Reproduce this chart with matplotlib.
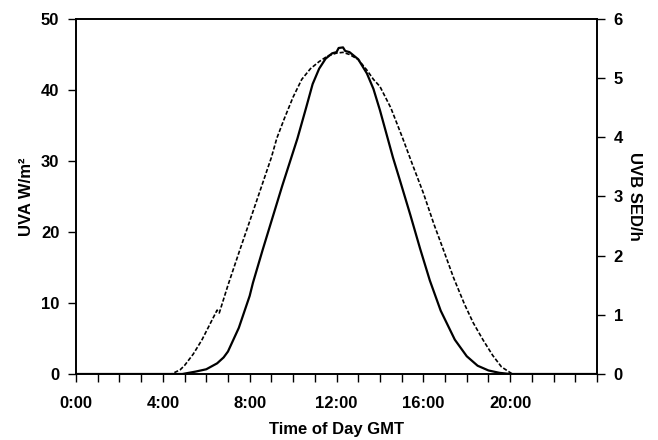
import matplotlib
matplotlib.use("Agg")
import matplotlib.pyplot as plt
from matplotlib.ticker import MultipleLocator

plt.rcParams['font.family'] = ['Liberation Sans', 'DejaVu Sans']
plt.rcParams['font.weight'] = 'bold'

# UVA (W/m2), dotted curve, left axis
uva_hours = [0, 4.4, 4.8, 5.0, 5.4, 5.8, 6.2, 6.5, 6.6, 7.0, 7.55, 8.0, 8.5, 9.0, 9.25,
             9.6, 10.0, 10.4, 10.8, 11.2, 11.6, 12.0, 12.3, 12.6, 13.0, 13.4, 13.7,
             14.0, 14.5, 15.05, 15.5, 16.0, 16.5, 16.9, 17.4, 17.9, 18.3, 18.75,
             19.2, 19.6, 20.1, 24]
uva = [0, 0, 0.6, 1.2, 2.8, 4.8, 7.2, 9.0, 8.6, 12.5, 17.5, 21.5, 26, 30.5, 33.2,
       36, 39, 41.5, 43, 44, 44.8, 45.2, 45.3, 45, 44.3, 42.8, 41.5,
       40.5, 37.5, 33.2, 29.5, 25.5, 21, 17.7, 13.5, 9.8, 7.2, 4.8,
       2.6, 1.0, 0, 0]

# UVB (SED/h), solid curve, right axis
uvb_hours = [0, 4.9, 5.5, 6.0, 6.5, 6.8, 7.0, 7.25, 7.5, 8.0, 8.15, 8.6, 9.0, 9.5,
             10.2, 10.6, 10.9, 11.2, 11.5, 11.8, 12.0, 12.1, 12.3, 12.4, 12.6, 13.0,
             13.4, 13.7, 14.0, 14.3, 14.6, 14.9, 15.4, 15.85, 16.3, 16.8, 17.45,
             18.0, 18.5, 19.0, 19.5, 20.0, 24]
uvb = [0, 0, 0.04, 0.08, 0.18, 0.28, 0.38, 0.58, 0.78, 1.32, 1.54, 2.1, 2.58, 3.18,
       3.98, 4.5, 4.9, 5.16, 5.33, 5.42, 5.44, 5.51, 5.52, 5.46, 5.44, 5.32,
       5.08, 4.82, 4.46, 4.06, 3.66, 3.3, 2.69, 2.12, 1.58, 1.07, 0.58,
       0.3, 0.14, 0.06, 0.02, 0, 0]

xtick_pos = [0, 4, 8, 12, 16, 20]
xtick_labels = ['0:00', '4:00', '8:00', '12:00', '16:00', '20:00']

fig = plt.figure(figsize=(6.58, 4.40), dpi=100)
ax = fig.add_axes([76 / 658, 66 / 440, 521 / 658, 355 / 440])
ax2 = ax.twinx()

ax.plot(uva_hours, uva, color='black', lw=1.2, linestyle=(0, (2.5, 1.2)))
ax2.plot(uvb_hours, uvb, color='black', lw=1.6)

ax.set_xlim(0, 24)
ax.set_ylim(0, 50)
ax2.set_ylim(0, 6)
ax.set_xticks(xtick_pos)
ax.set_xticklabels(xtick_labels)
ax.xaxis.set_minor_locator(MultipleLocator(1))
ax.set_yticks(range(0, 51, 10))
ax2.set_yticks(range(0, 7))

for a in (ax, ax2):
    for s in a.spines.values():
        s.set_linewidth(1.2)

ax.tick_params(axis='x', which='both', direction='out', length=6, width=1, pad=10, labelsize=12)
ax.tick_params(axis='y', direction='out', length=6, width=1, pad=6, labelsize=12)
ax2.tick_params(axis='y', direction='out', length=6, width=1, pad=6, labelsize=12)

ax.set_xlabel('Time of Day GMT', fontsize=12, fontweight='bold', labelpad=8)
ax.set_ylabel('UVA W/m²', fontsize=12, fontweight='bold', labelpad=5)
ax2.set_ylabel('UVB SED/h', fontsize=12, fontweight='bold', rotation=270, labelpad=14)

fig.savefig('out.png', dpi=100)
